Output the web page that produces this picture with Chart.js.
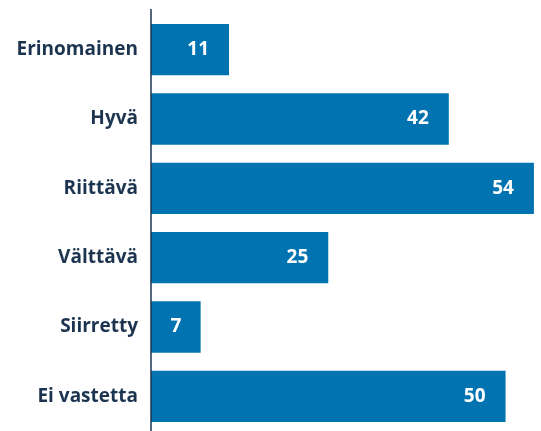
<!DOCTYPE html>
<html>
<head>
<meta charset="utf-8">
<script src="https://cdn.jsdelivr.net/npm/chart.js@4"></script>
<style>
  html, body { margin: 0; padding: 0; background: #fff; }
  #wrap { width: 541px; height: 431px; }
</style>
</head>
<body>
<div id="wrap"><canvas id="bars"></canvas></div>
<script>
// categories and values
const categories = ["Erinomainen", "Hyvä", "Riittävä", "Välttävä", "Siirretty", "Ei vastetta"];
const counts = [11, 42, 54, 25, 7, 50];

const barColor = '#0073b0';
const textColor = '#1d3450';

// white numbers inside the bar ends
const valueLabels = {
  id: 'valueLabels',
  afterDatasetsDraw(chart) {
    const ctx = chart.ctx;
    const meta = chart.getDatasetMeta(0);
    ctx.save();
    ctx.fillStyle = '#fff';
    ctx.font = 'bold 19px "Open Sans"';
    ctx.textBaseline = 'middle';
    meta.data.forEach((bar, i) => {
      const w = bar.x - bar.base;
      if (w < 50) {
        ctx.textAlign = 'center';
        ctx.fillText(counts[i], bar.base + w / 2, bar.y);
      } else {
        ctx.textAlign = 'right';
        ctx.fillText(counts[i], bar.x - 20, bar.y);
      }
    });
    ctx.restore();
  }
};

// the axis line runs a bit above the first bar
const axisLine = {
  id: 'axisLine',
  afterDraw(chart) {
    const ctx = chart.ctx;
    const x = chart.chartArea.left;
    ctx.save();
    ctx.strokeStyle = textColor;
    ctx.lineWidth = 1.5;
    ctx.beginPath();
    ctx.moveTo(x, 9);
    ctx.lineTo(x, chart.height);
    ctx.stroke();
    ctx.restore();
  }
};

new Chart(document.getElementById('bars'), {
  type: 'bar',
  data: {
    labels: categories,
    datasets: [{
      data: counts,
      backgroundColor: barColor,
      borderWidth: 0,
      barPercentage: 0.74,
      categoryPercentage: 1
    }]
  },
  options: {
    indexAxis: 'y',
    responsive: true,
    maintainAspectRatio: false,
    animation: false,
    layout: { padding: { top: 15, bottom: 0, right: 0, left: 0 } },
    scales: {
      x: {
        min: 0,
        max: 55,
        display: false
      },
      y: {
        afterFit(scale) {
          scale.width = 151;
          scale.paddingTop = 0;
          scale.paddingBottom = 0;
        },
        grid: { display: false, drawTicks: false },
        border: { display: false },
        ticks: {
          color: textColor,
          font: { family: '"Open Sans"', weight: 'bold', size: 19 },
          padding: 13
        }
      }
    },
    plugins: {
      legend: { display: false },
      tooltip: { enabled: false }
    }
  },
  plugins: [valueLabels, axisLine]
});
</script>
</body>
</html>
